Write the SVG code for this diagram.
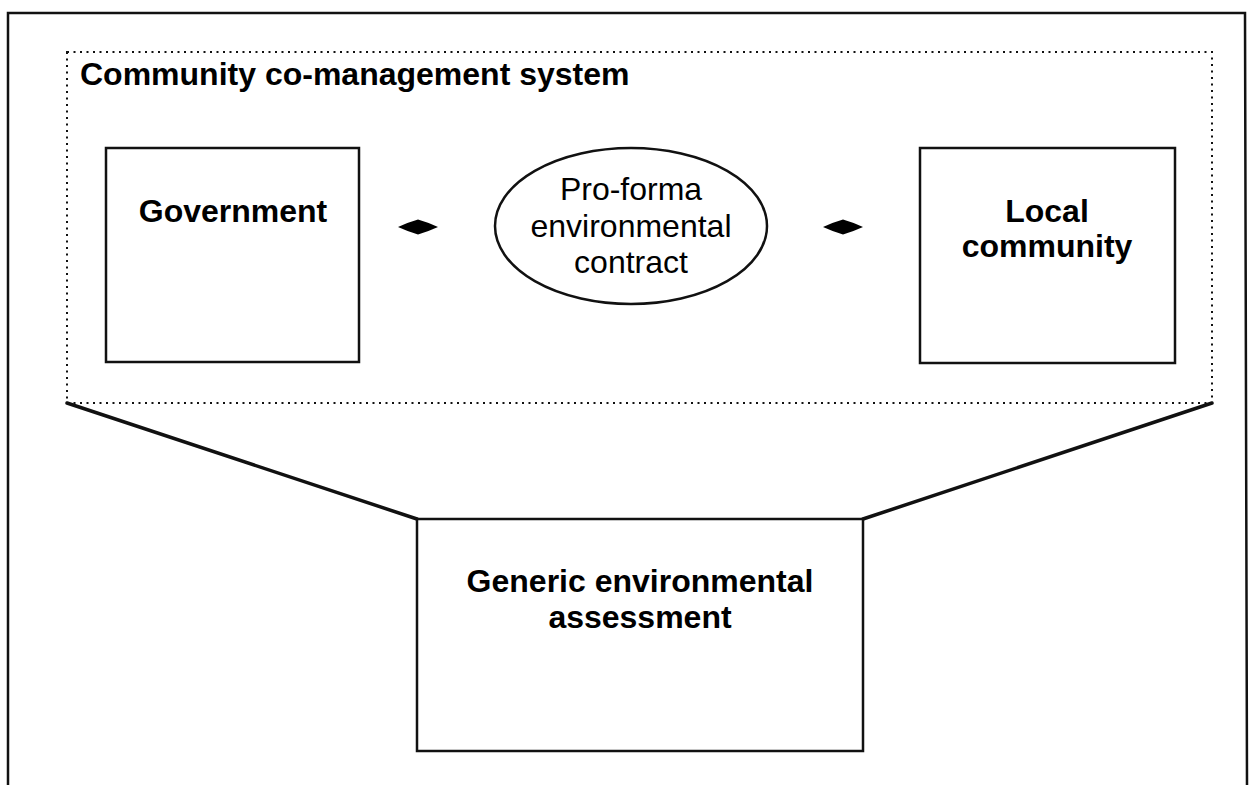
<svg xmlns="http://www.w3.org/2000/svg" width="1252" height="785" viewBox="0 0 1252 785">
  <style>
    .box { fill: #fff; stroke: #111; stroke-width: 2.5; }
    .frame { fill: none; stroke: #111; stroke-width: 2.5; }
    .dotted { fill: none; stroke: #111; stroke-width: 2; stroke-dasharray: 2 4.5; }
    .link { fill: none; stroke: #111; stroke-width: 3.5; stroke-linecap: round; }
    .lbl { font-family: "Liberation Sans", Arial, sans-serif; font-size: 32px; fill: #000; text-anchor: middle; }
    .bold { font-weight: bold; }
    .tip { fill: #000; stroke: none; }
  </style>
  <defs>
    <!-- double-pointed connector glyph, centred at origin -->
    <path id="twoway" d="M -20 0 Q -9 -5 0 -7.5 Q 9 -5 20 0 Q 9 5 0 7.5 Q -9 5 -20 0 Z"/>
  </defs>
  <rect width="1252" height="785" fill="#fff"/>

  <!-- outer border, open at the bottom -->
  <path class="frame" d="M 8 785 L 8 13 L 1245 13 L 1247 785"/>

  <!-- co-management system boundary -->
  <g id="system">
    <rect class="dotted" x="67" y="52" width="1145" height="351"/>
    <text class="lbl bold" x="80" y="85" style="text-anchor:start">Community co-management system</text>
  </g>

  <g id="connectors">
    <line class="link" x1="67" y1="403" x2="417" y2="519"/>
    <line class="link" x1="1212" y1="403" x2="863" y2="519"/>
    <use href="#twoway" class="tip" x="418" y="227"/>
    <use href="#twoway" class="tip" x="843" y="227"/>
  </g>

  <g id="government">
    <rect class="box" x="106" y="148" width="253" height="214"/>
    <text class="lbl bold" x="233" y="222">Government</text>
  </g>

  <g id="contract">
    <ellipse class="box" cx="631" cy="226" rx="136" ry="78" stroke-width="2.2"/>
    <text class="lbl" x="631" y="200">Pro-forma</text>
    <text class="lbl" x="631" y="237">environmental</text>
    <text class="lbl" x="631" y="273">contract</text>
  </g>

  <g id="local-community">
    <rect class="box" x="920" y="148" width="255" height="215"/>
    <text class="lbl bold" x="1047" y="222">Local</text>
    <text class="lbl bold" x="1047" y="257">community</text>
  </g>

  <g id="assessment">
    <rect class="box" x="417" y="519" width="446" height="232"/>
    <text class="lbl bold" x="640" y="592">Generic environmental</text>
    <text class="lbl bold" x="640" y="628">assessment</text>
  </g>
</svg>
